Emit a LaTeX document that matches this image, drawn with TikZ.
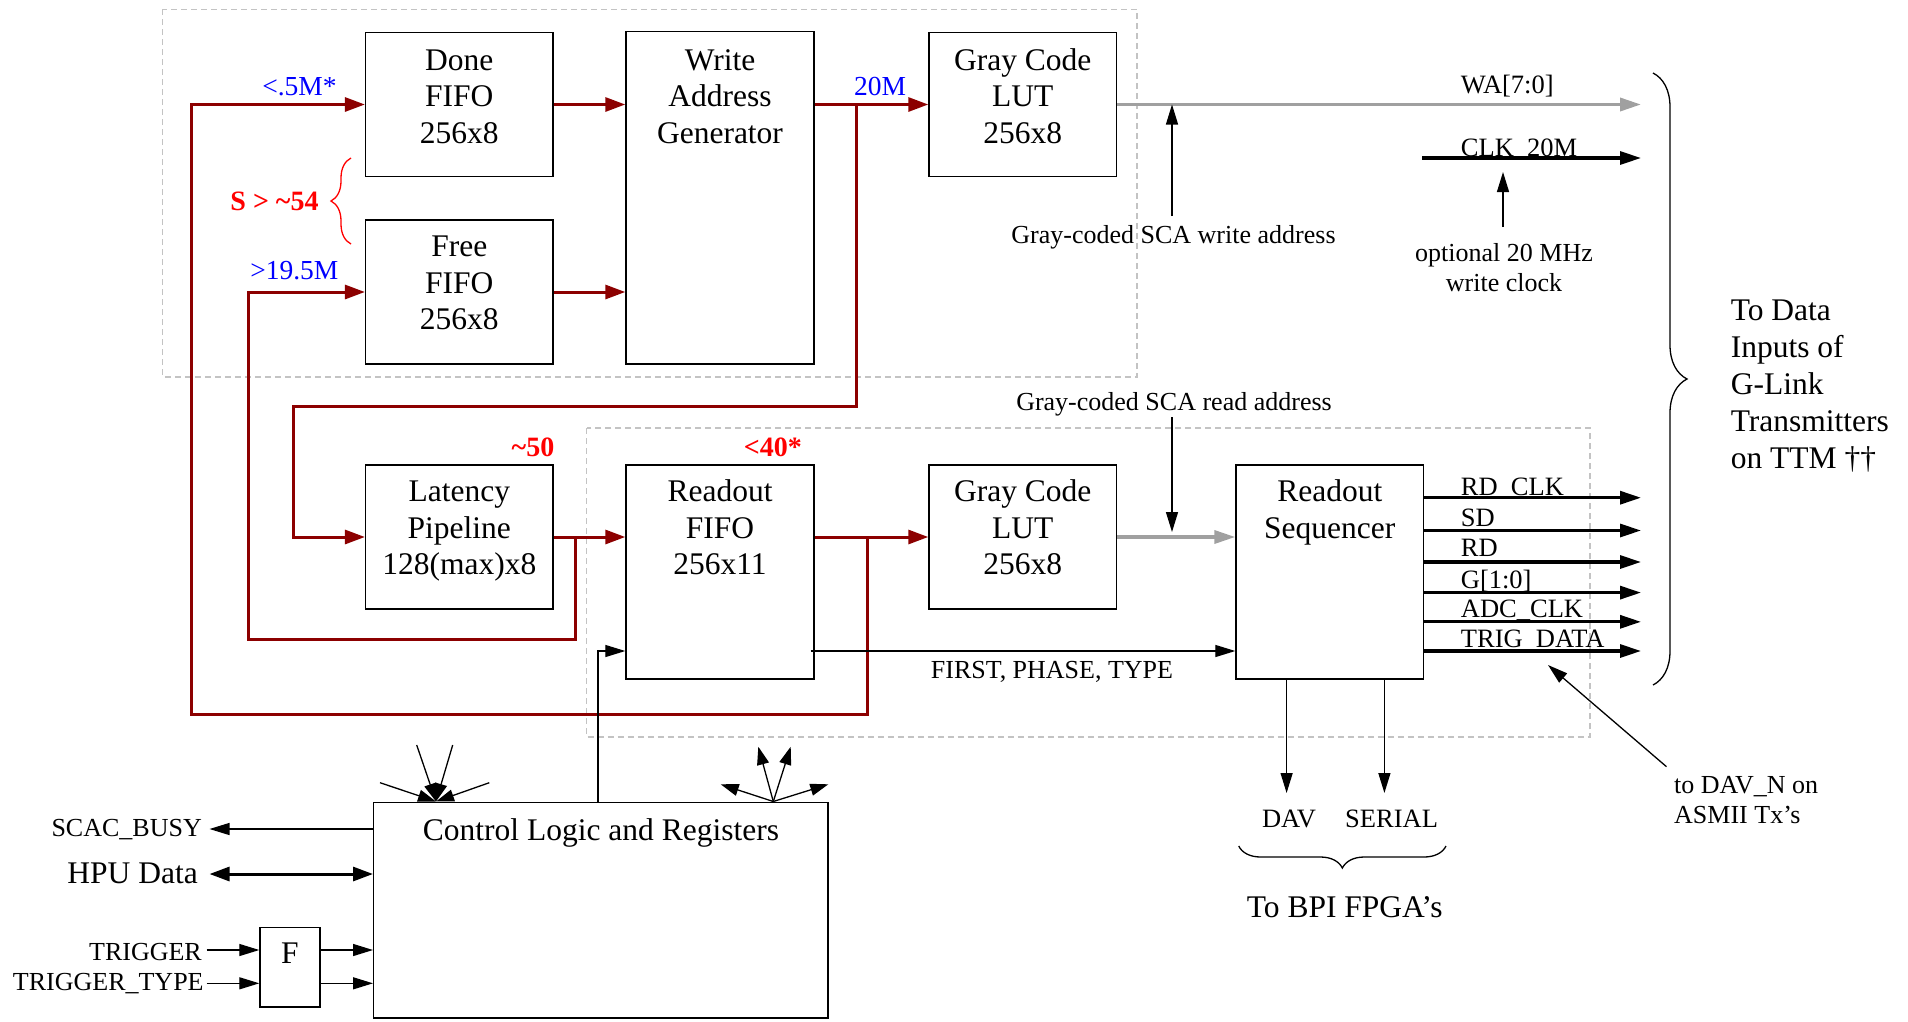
\documentclass[tikz,border=0pt]{standalone}
\usepackage{fontspec}
\setmainfont{Liberation Serif}
\usetikzlibrary{arrows.meta,decorations.pathreplacing,calc}
\definecolor{dred}{RGB}{140,0,0}
\definecolor{lgray}{RGB}{160,160,160}
\definecolor{dgray}{RGB}{195,195,195}
\newcommand\szmain{\fontsize{31.5}{36.5}\selectfont}
\newcommand\szside{\fontsize{31.5}{37}\selectfont}
\newcommand\szlab{\fontsize{26}{30}\selectfont}
\newcommand\szsig{\fontsize{26.5}{30}\selectfont}
\newcommand\szblue{\fontsize{27.5}{30}\selectfont}
\newcommand\szred{\fontsize{28}{30}\selectfont\bfseries}
\newcommand\mystrut{\rule{0pt}{25pt}}
\begin{document}
\begin{tikzpicture}[x=1pt,y=-1pt,
  box/.style={draw, line width=1.4pt, inner sep=0pt},
  btxt/.style={inner sep=0pt, font=\szmain, align=center, anchor=north},
  lab/.style={inner sep=0pt, font=\szlab, anchor=base},
  sig/.style={inner sep=0pt, font=\szsig, anchor=base west},
  bluelab/.style={inner sep=0pt, font=\szblue, text=blue, anchor=base},
  redlab/.style={inner sep=0pt, font=\szred, text=red, anchor=base},
  rarr/.style={draw=dred, line width=3pt, -{Triangle[length=20pt,width=14pt]}},
  garr/.style={draw=lgray, line width=3.5pt, -{Triangle[length=21pt,width=13pt]}},
  tarr/.style={draw, line width=1.3pt, -{Triangle[length=20pt,width=12pt]}},
  karr/.style={draw, line width=3.2pt, -{Triangle[length=21pt,width=13pt]}},
  farr/.style={draw, line width=1.3pt, -{Triangle[length=18pt,width=12pt]}},
  dbox/.style={draw=dgray, line width=1.2pt, dash pattern=on 6pt off 4pt},
  brc/.style={decorate, line width=1.3pt},
]
\useasboundingbox (0,0) rectangle (1908,1021);

% group frames
\draw[dbox] (162.5,9.3) rectangle (1137,377);
\draw[dbox] (586.6,428) rectangle (1590,737);

% boxes
\node[box, minimum width=187.4pt, minimum height=144pt] (done) at (459.3,104.5) {};
\node[box, minimum width=187.4pt, minimum height=144pt] (free) at (459.3,292) {};
\node[box, minimum width=188pt, minimum height=332.3pt] (wag) at (720,197.85) {};
\node[box, minimum width=187.5pt, minimum height=144pt] (gcl1) at (1022.75,104.5) {};
\node[box, minimum width=187.4pt, minimum height=144pt] (lat) at (459.3,537) {};
\node[box, minimum width=188pt, minimum height=214pt] (rfifo) at (720,572) {};
\node[box, minimum width=187.5pt, minimum height=144pt] (gcl2) at (1022.75,537) {};
\node[box, minimum width=187.5pt, minimum height=214pt] (rseq) at (1329.75,572) {};
\node[box, minimum width=454.3pt, minimum height=215.3pt] (ctrl) at (600.85,910.35) {};
\node[box, minimum width=60pt, minimum height=79.3pt] (fbox) at (290,967.35) {};

% box texts
\node[btxt] (doneT) at (459.3,45) {\mystrut Done\\FIFO\\256x8};
\node[btxt] (freeT) at (459.3,231.7) {\mystrut Free\\FIFO\\256x8};
\node[btxt] (wagT) at (720,45) {\mystrut Write\\Address\\Generator};
\node[btxt] (gcl1T) at (1022.75,45) {\mystrut Gray Code\\LUT\\256x8};
\node[btxt] (latT) at (459.3,476.7) {\mystrut Latency\\Pipeline\\128(max)x8};
\node[btxt] (rfifoT) at (720,476.7) {\mystrut Readout\\FIFO\\256x11};
\node[btxt] (gcl2T) at (1022.75,476.7) {\mystrut Gray Code\\LUT\\256x8};
\node[btxt] (rseqT) at (1329.75,476.7) {\mystrut Readout\\Sequencer};
\node[inner sep=0pt, font=\szmain, anchor=base] (ctrlT) at (601,840) {Control Logic and Registers};
\node[inner sep=0pt, font=\szmain, anchor=base] (fT) at (290,963.3) {F};

% rate labels
\node[bluelab] (l1) at (299.5,95) {<.5M*};
\node[bluelab] (l2) at (294.4,279.3) {>19.5M};
\node[bluelab] (l3) at (880,95) {20M};
\node[redlab, anchor=base east] (l4) at (318.75,210) {S > \char`~54};
\node[redlab] (l5) at (533,456.7) {\char`~50};
\node[redlab] (l6) at (772.8,456.7) {<40*};
\draw[brc, draw=red, decoration={brace, amplitude=20pt}] (351,244) -- (351,158);

% red data paths
\draw[rarr] (done.east) -- (done.east -| wag.west);
\draw[rarr] (free.east) -- (free.east -| wag.west);
\draw[rarr] (done.east -| wag.east) -- (gcl1.west);
\coordinate (b1) at (856.7,104.5);
\draw[rarr] (b1) |- (293.8,406) |- (lat.west);
\draw[rarr] (lat.east) -- (lat.east -| rfifo.west);
\coordinate (b2) at (575.4,537);
\draw[rarr] (b2) |- (248.7,639) |- (free.west);
\draw[rarr] (gcl2.west -| rfifo.east) -- (gcl2.west);
\coordinate (b3) at (867,537);
\draw[rarr] (b3) |- (191.5,714) |- (done.west);

% gray address paths
\coordinate (waend) at (1641,104.5);
\draw[garr] (gcl1.east) -- (waend);
\draw[garr] (gcl2.east) -- (gcl2.east -| rseq.west);
\node[sig] (waT) at (1460.7,93) {WA[7:0]};

\node[lab] (wlab) at (1173.5,243) {Gray-coded SCA write address};
\coordinate (wup) at (1172,216);
\draw[tarr] (wup) -- (wup |- waend);
\node[lab] (rlab) at (1174,410) {Gray-coded SCA read address};
\coordinate (rdn) at (1172,417);
\coordinate (rdnE) at (1172,532);
\draw[tarr] (rdn) -- (rdnE);

% clock
\coordinate (clkS) at (1422,158);
\coordinate (clkE) at (1641,158);
\draw[karr] (clkS) -- (clkE);
\node[sig] (clkT) at (1460.7,156) {CLK\_20M};
\node[inner sep=0pt, font=\szlab, align=center, anchor=north] (optT) at (1504,236.7) {\mystrut optional 20 MHz\\write clock};
\coordinate (oa) at (1503,227);
\coordinate (ob) at (1503,172);
\draw[tarr] (oa) -- (ob);

% sequencer outputs
\foreach \i/\y in {1/497.7,2/530.5,3/562,4/592.6,5/621.8,6/651}{
  \coordinate (o\i) at (1641,\y);
  \draw[karr] (o\i -| rseq.east) -- (o\i);
}
\node[sig] (s1) at (1460.7,495) {RD\_CLK};
\node[sig] (s2) at (1460.7,526) {SD};
\node[sig] (s3) at (1460.7,556.5) {RD};
\node[sig] (s4) at (1460.7,588) {G[1:0]};
\node[sig] (s5) at (1460.7,617) {ADC\_CLK};
\node[sig] (s6) at (1460.7,647.5) {TRIG\_DATA};

% FIRST, PHASE, TYPE
\coordinate (fp) at (1236,651);
\draw[tarr] ($(rfifo.east |- fp)+(-4,0)$) -- (rseq.west |- fp);
\node[lab] (fpT) at (1052,678) {FIRST, PHASE, TYPE};

% control to readout fifo
\coordinate (cr) at (598,651);
\draw[tarr] (ctrl.north -| cr) |- (rfifo.west |- cr);

% DAV / SERIAL
\coordinate (dv) at (1286.6,793);
\coordinate (sr) at (1384.4,793);
\draw[tarr] (rseq.south -| dv) -- (dv);
\draw[tarr] (rseq.south -| sr) -- (sr);
\node[lab, font=\szsig] (davT) at (1289,827.3) {DAV};
\node[lab, font=\szsig] (serT) at (1391.6,827.3) {SERIAL};
\draw[brc, decoration={brace, amplitude=22pt}] (1446,846) -- (1238.7,846);
\node[inner sep=0pt, font=\szmain, anchor=base] (bpiT) at (1344.7,917.3) {To BPI FPGA’s};

% DAV_N note
\coordinate (dn1) at (1666.5,766.7);
\coordinate (dn2) at (1548,665);
\draw[tarr] (dn1) -- (dn2);
\node[inner sep=0pt, font=\szlab, align=left, anchor=north west] (davnT) at (1674,768.3) {\mystrut to DAV\_N on\\ASMII Tx’s};

% big brace
\draw[brc, decoration={brace, amplitude=34pt}] (1653,73) -- (1653,685);
\node[inner sep=0pt, font=\szside, align=left, anchor=north west] (ttmT) at (1730.6,295.7) {\mystrut To Data\\Inputs of\\G-Link\\Transmitters\\on TTM ††};

% left side I/O
\coordinate (sc) at (209.5,829);
\draw[tarr] (ctrl.west |- sc) -- (sc);
\node[inner sep=0pt, font=\szlab, anchor=base east] (scT) at (202,836) {SCAC\_BUSY};
\coordinate (hp) at (209.5,874);
\draw[line width=3pt, {Triangle[length=20pt,width=14pt]}-{Triangle[length=20pt,width=14pt]}] (hp) -- (ctrl.west |- hp);
\node[inner sep=0pt, font=\szmain, anchor=base east] (hpT) at (198,883.3) {HPU Data};
\coordinate (tg) at (206.7,950);
\coordinate (tt) at (206.7,983.3);
\draw[tarr] (tg) -- (fbox.west |- tg);
\draw[tarr] (tt) -- (fbox.west |- tt);
\draw[tarr] (fbox.east |- tg) -- (ctrl.west |- tg);
\draw[tarr] (fbox.east |- tt) -- (ctrl.west |- tt);
\node[inner sep=0pt, font=\szlab, anchor=base east] (tgT) at (202,960) {TRIGGER};
\node[inner sep=0pt, font=\szlab, anchor=base east] (ttT) at (203.8,990.7) {TRIGGER\_TYPE};

% fans
\coordinate (fi) at (436,801.5);
\foreach \p in {(416.7,745),(452.7,745),(380,782.7),(489.3,782.7)} \draw[farr] \p -- (fi);
\coordinate (fo) at (773.3,801.5);
\foreach \p in {(758.3,746.7),(790.7,746.7),(720.7,784.3),(828.3,784.3)} \draw[farr] (fo) -- \p;
\end{tikzpicture}
\end{document}
